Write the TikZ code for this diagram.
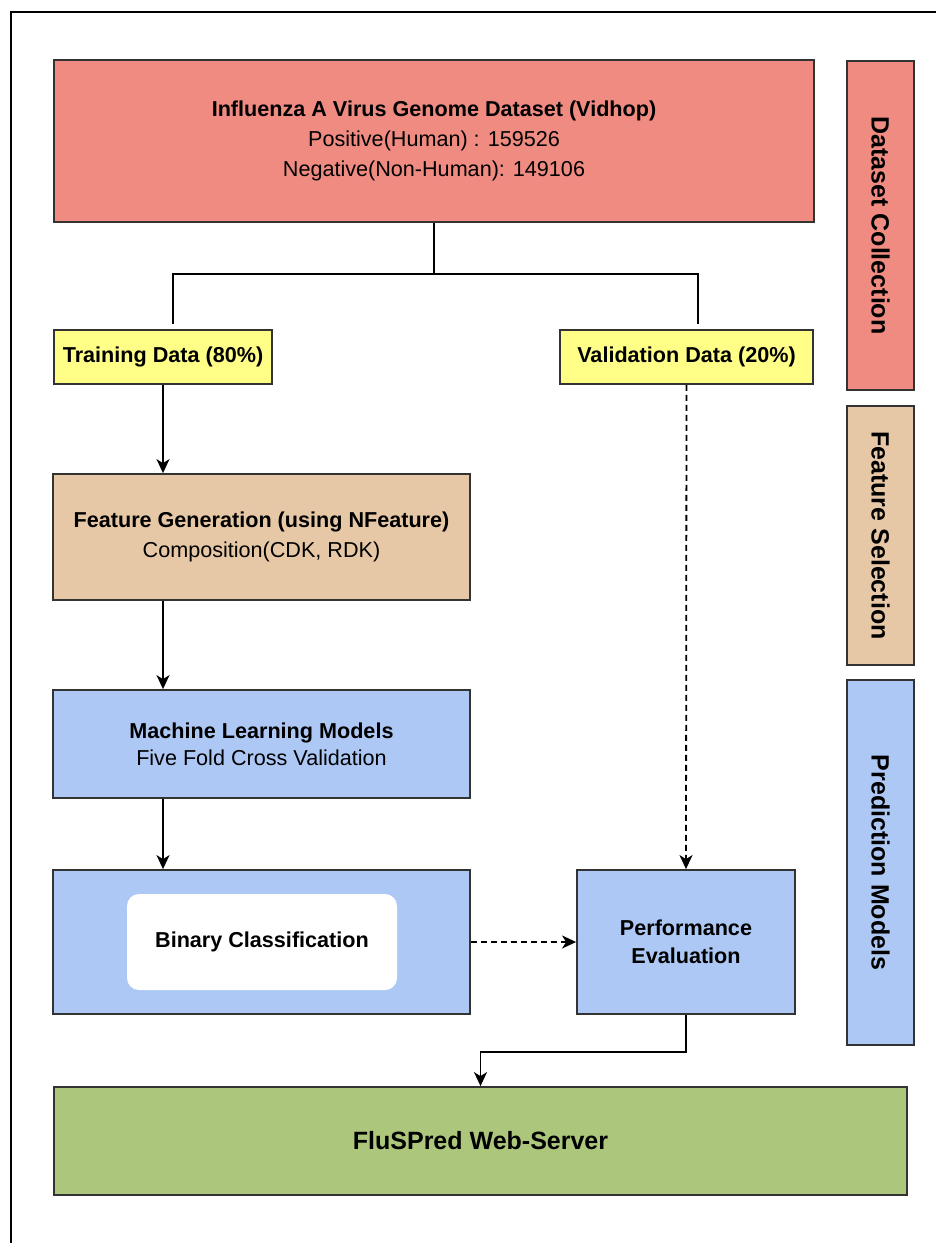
\documentclass[tikz,border=0pt]{standalone}
\usepackage{fontspec}
\setmainfont{Liberation Sans}
\usetikzlibrary{arrows.meta}
\definecolor{dcred}{HTML}{F08B82}
\definecolor{tryellow}{HTML}{FFFF88}
\definecolor{fsbeige}{HTML}{E6C8A6}
\definecolor{pmblue}{HTML}{ADC8F5}
\definecolor{wsgreen}{HTML}{ACC77B}
\begin{document}
\begin{tikzpicture}[x=1pt, y=-1pt,
  box/.style={draw=black!80, line width=1.8pt, inner sep=0pt, align=center, font=\fontsize{21.6}{30}\selectfont},
  side/.style={box, rotate=-90, font=\fontsize{25}{30}\selectfont\bfseries},
  arr/.style={-{Stealth[length=14pt, width=13pt, inset=4pt]}, line width=1.8pt},
  dasharr/.style={arr, dash pattern=on 6pt off 4pt}]
\useasboundingbox (0,0) rectangle (936,1243);
\draw[line width=1.8pt] (11,1243) -- (11,12) -- (936,12);
% main boxes
\node[box, fill=dcred, minimum width=760pt, minimum height=162pt] (data) at (434,141) {{\bfseries Influenza A Virus Genome Dataset (Vidhop)}\\ Positive(Human) : 159526\\ Negative(Non-Human): 149106};
\node[box, fill=tryellow, minimum width=218pt, minimum height=54pt, font=\fontsize{21.6}{30}\selectfont\bfseries] (train) at (163,357) {Training Data (80\%)};
\node[box, fill=tryellow, minimum width=253pt, minimum height=54pt, font=\fontsize{21.6}{30}\selectfont\bfseries] (valid) at (686.5,357) {Validation Data (20\%)};
\node[box, fill=fsbeige, minimum width=417pt, minimum height=126pt] (feat) at (261.5,537) {{\bfseries Feature Generation (using NFeature)}\\ Composition(CDK, RDK)};
\node[box, fill=pmblue, minimum width=417pt, minimum height=108pt, font=\fontsize{21.6}{27}\selectfont] (ml) at (261.5,744) {{\bfseries Machine Learning Models}\\ Five Fold Cross Validation};
\node[box, fill=pmblue, minimum width=417pt, minimum height=144pt] (bin) at (261.5,942) {};
\node[fill=white, rounded corners=12pt, minimum width=270pt, minimum height=96pt, font=\fontsize{21.6}{30}\selectfont\bfseries] (binc) at (262,942) {Binary Classification};
\node[box, fill=pmblue, minimum width=218pt, minimum height=144pt, font=\fontsize{21.6}{28}\selectfont\bfseries] (perf) at (686,942) {Performance\\ Evaluation};
\node[box, fill=wsgreen, minimum width=853pt, minimum height=108pt, font=\fontsize{25}{30}\selectfont\bfseries] (web) at (480.5,1141) {FluSPred Web-Server};
% side labels
\node[side, fill=dcred, minimum width=329pt, minimum height=67pt] (DC) at (880.5,225.5) {Dataset Collection};
\node[side, fill=fsbeige, minimum width=259pt, minimum height=67pt] (FS) at (880.5,535.5) {Feature Selection};
\node[side, fill=pmblue, minimum width=365pt, minimum height=67pt] (PM) at (880.5,862.5) {Prediction Models};
% connectors
\coordinate (trtop) at (173,324);
\coordinate (vatop) at (698,324);
\draw[line width=1.8pt] (data.south) -- ++(0,51) coordinate (split);
\draw[line width=1.8pt] (trtop) |- (split) -| (vatop);
\draw[arr] (train.south) -- (train.south |- feat.north);
\draw[arr] (train.south |- feat.south) -- (train.south |- ml.north);
\draw[arr] (train.south |- ml.south) -- (train.south |- bin.north);
\draw[dasharr] (bin.east) -- (perf.west);
\draw[dasharr] (valid.south) -- (perf.north);
\draw[arr] (perf.south) -- ++(0,37) -| (web.north);
\end{tikzpicture}
\end{document}
